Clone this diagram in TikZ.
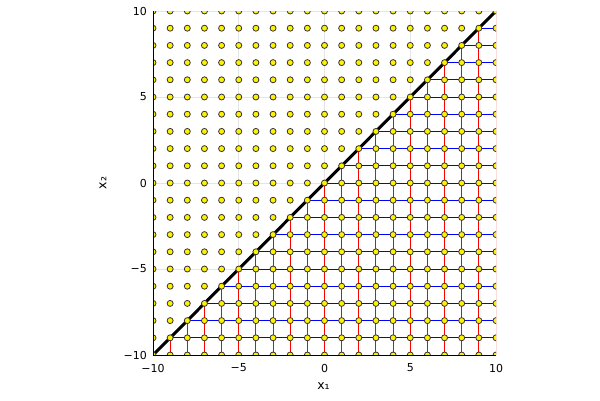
\documentclass[tikz,border=0pt]{standalone}
\usepackage{fontspec}
\setmainfont{DejaVu Sans}
\begin{document}
\begin{tikzpicture}[x=1pt,y=-1pt,
  gridline/.style={draw=black!10,line width=0.6pt},
  blueedge/.style={draw=blue,line width=1pt},
  rededge/.style={draw=red,line width=1pt},
  diagline/.style={draw=black,line width=3pt},
  dotpt/.style={fill=yellow,draw=black!80,line width=0.8pt},
  axisline/.style={draw=black,line width=1pt},
  ticklab/.style={font=\fontsize{11}{13}\selectfont,inner sep=0pt},
  axlab/.style={font=\fontsize{12.5}{14}\selectfont,inner sep=0pt}]
\useasboundingbox (0,0) rectangle (600,400);
\begin{scope}
  \clip (153,11) rectangle (496,355);
  \begin{scope}[shift={(324.5,183)},x=17.15pt,y=17.2pt]
    \foreach \v in {-10,-5,0,5,10} {
      \draw[gridline] (\v,-10) -- (\v,10);
      \draw[gridline] (-10,\v) -- (10,\v);
    }
    \foreach \j in {-10,...,9} \draw[blueedge] (\j,\j) -- (10,\j);
    \foreach \i in {-9,...,10} \draw[rededge] (\i,-10) -- (\i,\i);
    \draw[diagline] (-10,-10) -- (10,10);
    \foreach \i in {-10,...,10} {
      \foreach \j in {-10,...,10} {
        \filldraw[dotpt] (\i,\j) circle (3pt);
      }
    }
  \end{scope}
\end{scope}
\draw[axisline] (153,11) -- (153,355) -- (496,355);
% x tick labels
\node[ticklab] (xt1) at (153,368) {−10};
\node[ticklab] (xt2) at (238.75,368) {−5};
\node[ticklab] (xt3) at (324.5,368) {0};
\node[ticklab] (xt4) at (410.25,368) {5};
\node[ticklab] (xt5) at (496,368) {10};
% y tick labels
\node[ticklab,anchor=east] (yt1) at (147,355) {−10};
\node[ticklab,anchor=east] (yt2) at (147,269) {−5};
\node[ticklab,anchor=east] (yt3) at (147,183) {0};
\node[ticklab,anchor=east] (yt4) at (147,97) {5};
\node[ticklab,anchor=east] (yt5) at (147,11) {10};
% axis labels
\node[axlab] (xl) at (323.5,386) {x₁};
\node[axlab,rotate=90] (yl) at (103,183) {x₂};
\end{tikzpicture}
\end{document}
